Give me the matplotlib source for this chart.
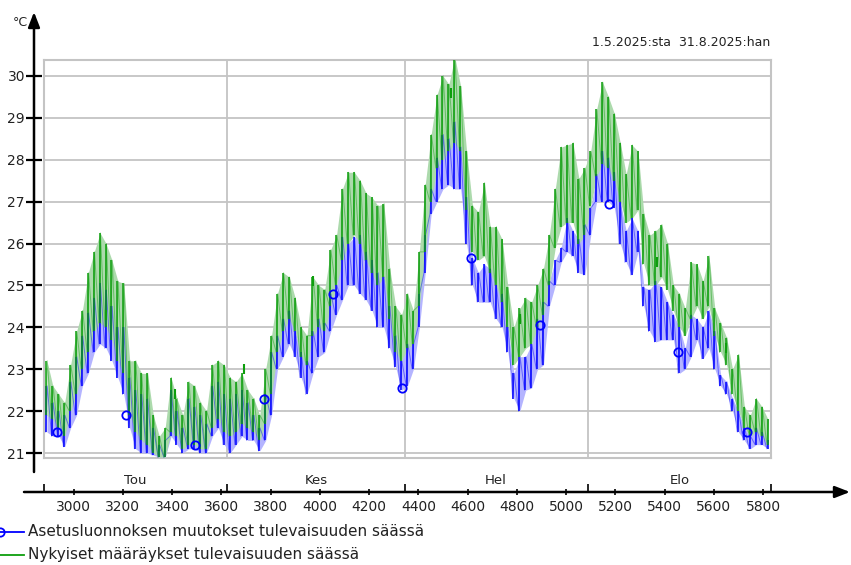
#!/usr/bin/env python3
"""Sisälämpötila kesällä 1.5.-31.8.2025: kaksi laskentatapausta tulevaisuuden säässä."""

import matplotlib

matplotlib.use("Agg")
import matplotlib.pyplot as plt
import numpy as np
from matplotlib.lines import Line2D
from matplotlib.transforms import blended_transform_factory

# Päivittäiset minimit ja maksimit (°C), 1.5. - 31.8.
BLUE_LO = [21.5, 21.4, 21.4, 21.15, 21.6, 21.9, 22.6, 22.9, 23.4, 23.6,
           23.5, 23.2, 22.8, 22.4, 21.6, 21.1, 21.0, 21.0, 20.95, 20.9,
           20.9, 21.4, 21.2, 21.0, 21.1, 21.1, 21.0, 21.0, 21.4, 21.6, 21.2,
           21.0, 21.2, 21.4, 21.3, 21.3, 21.05, 21.3, 21.9, 23.0, 23.3,
           23.6, 23.3, 22.8, 22.4, 22.9, 23.3, 23.4, 23.9, 24.3, 24.65,
           25.0, 25.0, 24.8, 24.65, 24.4, 24.0, 24.0, 23.5, 23.05, 22.5,
           22.6, 23.0, 24.0, 25.3, 26.7, 27.0, 27.3, 27.4, 27.3, 27.3,
           26.0, 25.0, 24.6, 24.6, 24.6, 24.2, 24.0, 23.4, 22.3, 22.0,
           22.5, 22.55, 23.0, 23.1, 24.5, 25.0, 25.55, 25.8, 25.7, 25.3, 25.25,
           26.2, 27.0, 27.0, 27.0, 26.85, 26.0, 25.55, 25.25, 25.8, 24.5,
           23.9, 23.65, 23.7, 23.7, 23.7, 22.9, 23.0, 23.3, 23.7, 23.25,
           23.5, 23.0, 22.6, 22.4, 22.0, 21.5, 21.3, 21.1, 21.2, 21.2, 21.1]
BLUE_HI = [22.6, 22.2, 22.0, 21.9, 22.7, 23.3, 23.8, 24.35, 24.7, 25.05,
           24.9, 24.5, 24.0, 24.0, 22.8, 22.5, 22.4, 22.3, 21.6, 21.2,
           21.3, 22.5, 22.0, 21.6, 22.3, 22.1, 21.9, 21.7, 22.6, 22.7, 22.4,
           22.3, 22.4, 22.5, 22.2, 21.9, 21.6, 22.4, 23.4, 23.8, 24.2,
           24.4, 23.9, 23.4, 23.2, 23.9, 24.2, 24.1, 24.8, 25.0, 26.15,
           26.0, 26.15, 26.2, 25.8, 25.6, 25.3, 25.2, 24.5, 23.8, 23.2,
           23.6, 23.6, 24.8, 26.2, 27.3, 28.05, 28.6, 28.5, 28.9, 28.3,
           27.1, 25.65, 25.3, 25.5, 25.4, 25.0, 24.8, 24.0, 22.9, 23.3,
           23.3, 23.6, 24.2, 24.6, 25.1, 25.6, 25.9, 26.6, 26.3, 26.1, 26.45,
           26.85, 27.65, 28.2, 28.05, 27.7, 27.0, 26.3, 26.6, 26.3, 24.95,
           24.9, 25.1, 24.95, 24.6, 24.3, 24.0, 23.5, 24.3, 24.2, 24.0,
           24.4, 23.9, 22.85, 22.7, 22.3, 22.0, 21.6, 21.4, 21.6, 21.5, 21.3]
GREEN_LO = [21.9, 21.8, 21.6, 21.4, 22.0, 22.4, 23.0, 23.4, 23.9, 24.1,
            24.0, 23.7, 23.2, 22.9, 21.9, 21.5, 21.3, 21.2, 21.0, 20.9,
            20.9, 21.5, 21.4, 21.1, 21.2, 21.2, 21.1, 21.1, 21.6, 21.8, 21.5,
            21.4, 21.5, 21.7, 21.6, 21.5, 21.3, 21.7, 22.4, 23.4, 23.9,
            24.2, 23.9, 23.3, 23.1, 23.8, 24.0, 23.9, 24.5, 25.0, 25.6,
            26.0, 26.2, 26.0, 25.6, 25.3, 25.0, 25.2, 24.2, 23.4, 23.2,
            23.5, 23.6, 24.5, 25.8, 27.0, 27.8, 28.0, 28.2, 28.4, 28.2,
            26.8, 25.8, 25.6, 25.7, 25.3, 25.0, 24.6, 24.0, 23.1, 23.3,
            23.5, 23.6, 24.0, 24.3, 25.0, 25.9, 26.4, 26.5, 26.5, 26.0, 26.2,
            26.9, 27.6, 27.9, 27.8, 27.5, 27.0, 26.5, 26.6, 26.8, 25.5,
            25.0, 25.0, 25.2, 24.9, 24.4, 24.0, 23.8, 24.2, 24.5, 24.2,
            24.5, 23.8, 23.4, 23.1, 22.4, 22.0, 21.6, 21.4, 21.5, 21.4, 21.2]
GREEN_HI = [23.2, 22.6, 22.4, 22.2, 23.1, 23.9, 24.4, 25.3, 25.8, 26.25,
            26.0, 25.6, 25.1, 25.05, 23.2, 23.2, 22.9, 22.9, 21.9, 21.4,
            21.6, 22.8, 22.3, 21.9, 22.7, 22.6, 22.2, 22.0, 23.1, 23.2, 23.1,
            22.8, 22.7, 22.9, 22.5, 22.3, 21.9, 23.0, 23.8, 24.8, 25.3,
            25.2, 24.7, 24.0, 23.8, 25.2, 25.0, 24.9, 25.85, 26.2, 27.3,
            27.7, 27.7, 27.5, 27.2, 27.1, 26.9, 26.95, 25.4, 24.5, 24.3,
            24.8, 24.4, 25.8, 27.4, 28.6, 29.55, 30.0, 29.8, 30.45, 29.75,
            28.2, 26.9, 26.75, 27.45, 26.4, 26.4, 26.1, 24.95, 24.0, 24.45,
            24.7, 24.6, 25.0, 25.4, 26.2, 27.3, 28.3, 28.35, 28.4, 27.55, 27.8,
            28.2, 29.2, 29.85, 29.5, 29.1, 28.4, 27.65, 28.35, 28.2, 26.7,
            26.2, 26.3, 26.45, 26.0, 25.0, 24.8, 24.45, 25.55, 25.5, 25.1,
            25.7, 24.45, 24.1, 23.75, 23.0, 23.35, 22.1, 21.9, 22.3, 22.1, 21.8]

# Sarjojen merkkipisteet (tunti vuoden alusta, °C)
BLUE_MARK_H = [2933, 3213, 3493, 3773, 4053, 4333, 4613, 4893, 5173, 5453, 5733]
BLUE_MARK_T = [21.5, 21.9, 21.2, 22.3, 24.8, 22.55, 25.65, 24.05, 26.95, 23.4, 21.5]
GREEN_MARK_H = [3131, 3411, 3691, 3971, 4531, 4811, 5371, 5651]
GREEN_MARK_T = [24.3, 22.4, 23.0, 25.1, 29.6, 24.2, 25.55, 23.5]

START_HOUR = 2880
MONTH_STARTS = [2880, 3624, 4344, 5088, 5832]
MONTH_NAMES = ["Tou", "Kes", "Hel", "Elo"]
X_TICKS = list(range(3000, 5801, 200))
Y_TICKS = list(range(21, 31))

LABEL_BLUE = "Asetusluonnoksen muutokset tulevaisuuden säässä"
LABEL_GREEN = "Nykyiset määräykset tulevaisuuden säässä"
PERIOD = "1.5.2025:sta  31.8.2025:han"

BLUE = "#0000ff"
GREEN = "#0d9e0d"
GRID = "#c4c4c4"
TEXT = "#222222"

W, H = 851, 565
BOX = (44, 60, 771, 458)  # px: vasen, ylä, oikea, ala
PT = 0.72  # pikseli -> piste, kun dpi = 100


def fx(px):
    return (px - BOX[0]) / (BOX[2] - BOX[0])


def fy(py):
    return (BOX[3] - py) / (BOX[3] - BOX[1])


def draw_series(ax, lo, hi, color, light):
    days = START_HOUR + 24 * np.arange(len(lo))
    lo = np.asarray(lo)
    hi = np.asarray(hi)
    x = np.column_stack([days + 7, days + 13]).ravel()
    y = np.column_stack([lo, hi]).ravel()
    ax.fill_between(days + 12, lo, hi, color=light, lw=0, zorder=2)
    ax.plot(x, y, color=color, lw=0.7, alpha=0.45, zorder=3)
    ax.vlines(days + 10, lo, hi, color=color, lw=1.1, zorder=4)


def main() -> None:
    fig = plt.figure(figsize=(W / 100, H / 100), dpi=100)
    ax = fig.add_axes([BOX[0] / W, 1 - BOX[3] / H,
                       (BOX[2] - BOX[0]) / W, (BOX[3] - BOX[1]) / H])
    ax.set_xlim(MONTH_STARTS[0], MONTH_STARTS[-1])
    ax.set_ylim(21 - 5 / 41.9, 21 + 393 / 41.9)

    for sp in ax.spines.values():
        sp.set_color(GRID)
        sp.set_linewidth(1.5)
    for t in Y_TICKS:
        ax.axhline(t, color=GRID, lw=1.3, zorder=1)
    for m in MONTH_STARTS[1:-1]:
        ax.axvline(m, color=GRID, lw=1.3, zorder=1)

    draw_series(ax, BLUE_LO, BLUE_HI, BLUE, "#b4b4ff")
    draw_series(ax, GREEN_LO, GREEN_HI, GREEN, "#acdaac")
    ax.plot(BLUE_MARK_H, BLUE_MARK_T, "o", ms=6, mfc="none", mec=BLUE, mew=1.3, zorder=5)
    ax.plot(GREEN_MARK_H, GREEN_MARK_T, "|", ms=7, mec=GREEN, mew=1.5, zorder=5)

    # ulkopuoliset akselit nuolineen
    ax.set_xticks(X_TICKS)
    ax.set_xticks(MONTH_STARTS, minor=True)
    ax.set_yticks(Y_TICKS)
    ax.spines["left"].set_position(("outward", 10 * PT))
    ax.spines["bottom"].set_position(("outward", 34 * PT))
    ax.spines["left"].set_visible(False)
    ax.spines["bottom"].set_visible(False)
    ax.tick_params(axis="y", direction="inout", length=11, width=1.6, color="black",
                   labelsize=10, labelcolor=TEXT, pad=1)
    ax.tick_params(axis="x", which="major", direction="inout", length=5, width=1.2,
                   color="black", labelsize=10, labelcolor=TEXT, pad=3)
    ax.tick_params(axis="x", which="minor", direction="in", length=6, width=1.2,
                   color="black")
    # laatikon reunat takaisin harmaina
    for p0, p1 in (((0, 0), (0, 1)), ((0, 0), (1, 0))):
        ax.plot([p0[0], p1[0]], [p0[1], p1[1]], transform=ax.transAxes,
                color=GRID, lw=1.5, clip_on=False, zorder=1)

    arrow = dict(arrowstyle="-|>,head_length=0.9,head_width=0.35", color="black",
                 lw=1.8, shrinkA=0, shrinkB=0)
    ax.annotate("", xy=(fx(34), fy(12)), xytext=(fx(34), fy(472)),
                xycoords="axes fraction", arrowprops=arrow)
    ax.annotate("", xy=(fx(850), fy(492)), xytext=(fx(24), fy(492)),
                xycoords="axes fraction", arrowprops=arrow)

    tr = blended_transform_factory(ax.transData, ax.transAxes)
    for a, b, name in zip(MONTH_STARTS[:-1], MONTH_STARTS[1:], MONTH_NAMES):
        ax.text((a + b) / 2, fy(480), name, transform=tr, ha="center", va="center",
                fontsize=9.5, color=TEXT)

    ax.text(fx(28), fy(22), "°C", transform=ax.transAxes, ha="right", va="center",
            fontsize=9, color=TEXT)
    ax.text(fx(770), fy(42), PERIOD, transform=ax.transAxes, ha="right", va="center",
            fontsize=9, color=TEXT)

    # selite vasempaan alakulmaan
    for py, color, label, marker in ((532, BLUE, LABEL_BLUE, "o"),
                                     (555, GREEN, LABEL_GREEN, "")):
        fig.add_artist(Line2D([0, 24 / W], [1 - py / H] * 2, color=color, lw=1.3,
                              marker=marker, markevery=[0], ms=6, mfc="none",
                              mec=color, mew=1.3))
        fig.text(28 / W, 1 - py / H, label, ha="left", va="center", fontsize=11,
                 color=TEXT)

    fig.savefig("out.png", dpi=100)


if __name__ == "__main__":
    main()
